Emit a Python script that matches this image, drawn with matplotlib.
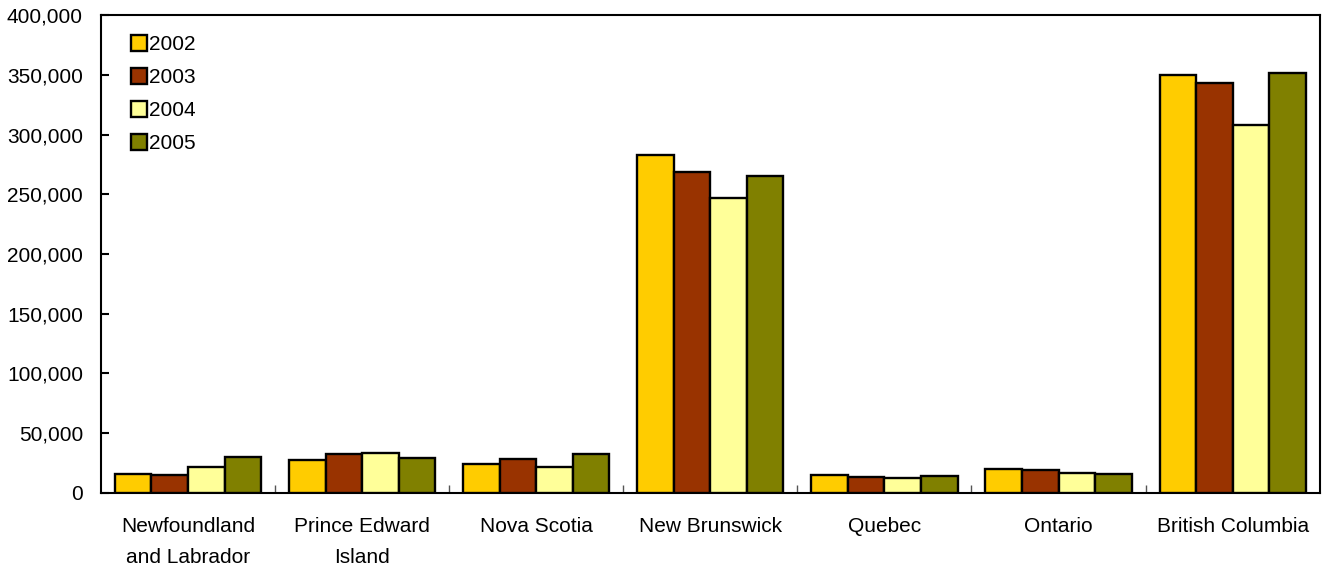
import numpy as np
import matplotlib
matplotlib.use("Agg")
import matplotlib.pyplot as plt
from matplotlib.ticker import FuncFormatter

plt.rcParams['font.family'] = ['Liberation Sans', 'DejaVu Sans']

# Veriler
provinces = ["Newfoundland\nand Labrador", "Prince Edward\nIsland", "Nova Scotia",
             "New Brunswick", "Quebec", "Ontario", "British Columbia"]
years = ["2002", "2003", "2004", "2005"]
v2002 = [15600, 27600, 24500, 282700, 14800, 19800, 349900]
v2003 = [15000, 32400, 28400, 268700, 13400, 19000, 343400]
v2004 = [21500, 33200, 21700, 247200, 12300, 17000, 308000]
v2005 = [29900, 29000, 32900, 265600, 14200, 16200, 351300]
colors = ["#FFCC00", "#993300", "#FFFF99", "#808000"]

series = [v2002, v2003, v2004, v2005]

fig = plt.figure(figsize=(13.25, 5.69), dpi=100)
ax = fig.add_axes([0.0762, 0.1336, 0.9198, 0.84])

x = np.arange(len(provinces))
w = 0.21
for i, vals in enumerate(series):
    ax.bar(x + (i - 1.5) * w, vals, w, color=colors[i], edgecolor="black",
           linewidth=1.7, label=years[i], zorder=3)

ax.set_xlim(-0.5, len(provinces) - 0.5)
ax.set_ylim(0, 400000)
ax.set_yticks(np.arange(0, 400001, 50000))
ax.yaxis.set_major_formatter(FuncFormatter(lambda v, p: f"{int(v):,}"))

# kategori araları için küçük işaretler
ax.set_xticks(np.arange(0.5, len(provinces) - 0.5, 1.0))
ax.set_xticklabels([])
ax.set_xticks(x, minor=True)
ax.set_xticklabels(provinces, minor=True, fontsize=15, linespacing=1.8)
ax.tick_params(axis="x", which="minor", length=0, pad=17)
ax.tick_params(axis="x", which="major", direction="in", length=6, width=1, color="#555555")
ax.tick_params(axis="y", direction="in", length=6, width=1.5, labelsize=15, pad=13)

for s in ax.spines.values():
    s.set_linewidth(1.5)
    s.set_color("black")

ax.legend(loc="upper left", bbox_to_anchor=(0.018, 0.975), frameon=False,
          fontsize=15, handlelength=0.75, handleheight=0.75, handletextpad=0.1,
          labelspacing=0.67, borderaxespad=0)

fig.savefig("out.png", dpi=100)
